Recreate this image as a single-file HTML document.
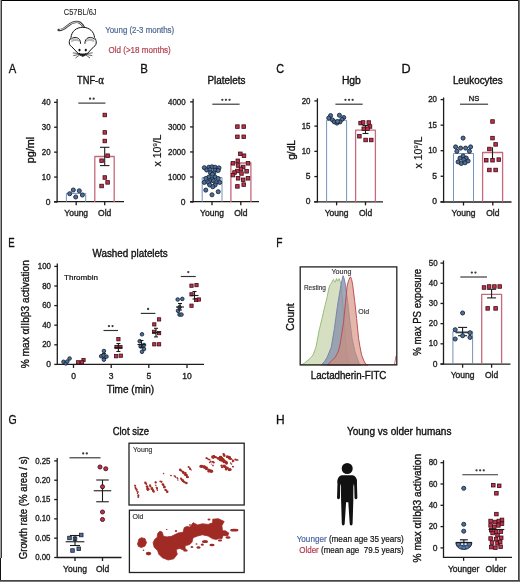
<!DOCTYPE html>
<html><head><meta charset="utf-8"><style>
html,body{margin:0;padding:0;background:#fff;width:520px;height:582px;overflow:hidden}
svg{display:block;font-family:"Liberation Sans", sans-serif;will-change:transform}
</style></head><body>
<svg width="520" height="582" viewBox="0 0 520 582">
<rect x="0.00" y="0.00" width="520.00" height="582.00" fill="#ffffff" />
<line x1="0.00" y1="0.50" x2="520.00" y2="0.50" stroke="#000" stroke-width="1" />
<line x1="0.50" y1="0.00" x2="0.50" y2="558.00" stroke="#a0a0a0" stroke-width="1" />
<line x1="1.50" y1="0.00" x2="1.50" y2="558.00" stroke="#3a3a3a" stroke-width="1" />
<line x1="0.50" y1="558.00" x2="0.50" y2="582.00" stroke="#111" stroke-width="1" />
<line x1="518.50" y1="0.00" x2="518.50" y2="582.00" stroke="#444" stroke-width="1" />
<line x1="519.50" y1="0.00" x2="519.50" y2="582.00" stroke="#777" stroke-width="1" />
<line x1="0.00" y1="580.50" x2="520.00" y2="580.50" stroke="#444" stroke-width="1" />
<line x1="0.00" y1="581.50" x2="520.00" y2="581.50" stroke="#777" stroke-width="1" />
<text x="63.80" y="15.00" font-size="8.6" fill="#2a2a2a" stroke="#2a2a2a" stroke-width="0.12" textLength="32.80" lengthAdjust="spacingAndGlyphs" >C57BL/6J</text>
<text x="105.20" y="32.60" font-size="8.3" fill="#4d6892" stroke="#4d6892" stroke-width="0.2" textLength="69.00" lengthAdjust="spacingAndGlyphs" >Young (2-3 months)</text>
<text x="108.50" y="52.60" font-size="8.3" fill="#b2404f" stroke="#b2404f" stroke-width="0.2" textLength="62.30" lengthAdjust="spacingAndGlyphs" >Old (&gt;18 months)</text>
<g stroke="#111" fill="#fff" stroke-linejoin="round" stroke-linecap="round">
<path d="M58.6 30 C62 30.6 65 28.2 68 25.6 C71.5 22.6 75 21.2 78.5 22.1 C80.6 22.8 82.6 24.6 83.9 27.4" fill="none" stroke="#3a3a3a" stroke-width="2.3"/>
<path d="M60 29.7 C62.5 29.8 65.2 27.8 68 25.5 C71.5 22.7 75 21.5 78.4 22.3 C80.3 22.9 82 24.5 83.3 27" fill="none" stroke="#d4d4d4" stroke-width="1.0"/>
<path d="M82.8 56 C80.6 56 79.2 54.6 77.8 53 L71.6 46.6 C69.6 45.6 69.1 43.5 69.3 41.5 C69.5 39.6 70.4 38.6 71 37.6 C71.4 31.6 76.2 27.3 82.7 27.3 C89.3 27.3 94.1 31.6 94.5 37.6 C95.1 38.6 96 39.6 96.2 41.5 C96.4 43.5 95.9 45.6 93.9 46.6 L87.8 53 C86.4 54.6 85 56 82.8 56 Z" stroke-width="1"/>
<path d="M71.3 40 C73 38 77.5 37.8 79.4 40.3 L79.9 42.2 C77.5 40.6 74 40.8 71.2 42.6 Z" fill="#b8b8b8" stroke="none"/>
<path d="M94.2 40 C92.5 38 88 37.8 86.1 40.3 L85.6 42.2 C88 40.6 91.5 40.8 94.3 42.6 Z" fill="#b8b8b8" stroke="none"/>
<path d="M71 39.2 C72.6 36.9 77.6 36.6 79.6 39.6 C80.4 40.9 80.6 42.1 80.6 43.4" fill="none" stroke-width="0.95"/>
<path d="M94.5 39.2 C92.9 36.9 87.9 36.6 85.9 39.6 C85.1 40.9 84.9 42.1 84.9 43.4" fill="none" stroke-width="0.95"/>
<ellipse cx="79.5" cy="50.1" rx="1.1" ry="1.4" fill="#111" stroke="none"/>
<ellipse cx="85.8" cy="50.1" rx="1.1" ry="1.4" fill="#111" stroke="none"/>
<path d="M79.3 53.6 C80.5 55.8 85 55.8 86.2 53.6 C85 54.3 80.5 54.3 79.3 53.6 Z" fill="#111" stroke-width="1"/>
<path d="M78.8 53.6 L73.2 52.9 M79 54.4 L73.6 55.6 M79.5 55 L75.8 57.8 M86.7 53.6 L92.3 52.9 M86.5 54.4 L91.9 55.6 M86 55 L89.7 57.8" fill="none" stroke="#222" stroke-width="0.7"/>
</g>
<text transform="translate(8.63 72.80) scale(0.878 1)" font-size="12.8" fill="#111" stroke="#111" stroke-width="0.3">A</text>
<text x="77.10" y="83.80" font-size="10" fill="#111" stroke="#111" stroke-width="0.35" textLength="26.70" lengthAdjust="spacingAndGlyphs" >TNF-<tspan font-family="Liberation Serif" font-size="11.5">α</tspan></text>
<line x1="57.10" y1="99.00" x2="57.10" y2="202.40" stroke="#1c1c1c" stroke-width="1.3" />
<line x1="54.10" y1="202.00" x2="57.10" y2="202.00" stroke="#1c1c1c" stroke-width="1.3" />
<text x="50.60" y="204.60" font-size="8.5" fill="#222" stroke="#222" stroke-width="0.35" text-anchor="end" >0</text>
<line x1="54.10" y1="177.07" x2="57.10" y2="177.07" stroke="#1c1c1c" stroke-width="1.3" />
<text x="50.60" y="179.67" font-size="8.5" fill="#222" stroke="#222" stroke-width="0.35" text-anchor="end" textLength="8.80" lengthAdjust="spacingAndGlyphs" >10</text>
<line x1="54.10" y1="152.15" x2="57.10" y2="152.15" stroke="#1c1c1c" stroke-width="1.3" />
<text x="50.60" y="154.75" font-size="8.5" fill="#222" stroke="#222" stroke-width="0.35" text-anchor="end" textLength="8.80" lengthAdjust="spacingAndGlyphs" >20</text>
<line x1="54.10" y1="127.22" x2="57.10" y2="127.22" stroke="#1c1c1c" stroke-width="1.3" />
<text x="50.60" y="129.82" font-size="8.5" fill="#222" stroke="#222" stroke-width="0.35" text-anchor="end" textLength="8.80" lengthAdjust="spacingAndGlyphs" >30</text>
<line x1="54.10" y1="102.30" x2="57.10" y2="102.30" stroke="#1c1c1c" stroke-width="1.3" />
<text x="50.60" y="104.90" font-size="8.5" fill="#222" stroke="#222" stroke-width="0.35" text-anchor="end" textLength="8.80" lengthAdjust="spacingAndGlyphs" >40</text>
<line x1="54.00" y1="201.70" x2="124.00" y2="201.70" stroke="#1c1c1c" stroke-width="1.3" />
<line x1="76.20" y1="201.70" x2="76.20" y2="205.20" stroke="#1c1c1c" stroke-width="1.3" />
<text x="76.20" y="216.20" font-size="8.5" fill="#222" stroke="#222" stroke-width="0.35" text-anchor="middle" >Young</text>
<line x1="104.70" y1="201.70" x2="104.70" y2="205.20" stroke="#1c1c1c" stroke-width="1.3" />
<text x="104.70" y="216.20" font-size="8.5" fill="#222" stroke="#222" stroke-width="0.35" text-anchor="middle" >Old</text>
<text x="34.10" y="150.10" font-size="10.6" fill="#111" stroke="#111" stroke-width="0.35" text-anchor="middle" textLength="26.40" lengthAdjust="spacingAndGlyphs" transform="rotate(-90 34.10 150.10)" >pg/ml</text>
<path d="M66.40 202.00 L66.40 193.40 L85.70 193.40 L85.70 202.00" fill="none" stroke="#6f8db5" stroke-width="0.95" stroke-linejoin="round"/>
<path d="M94.80 202.00 L94.80 156.50 L114.20 156.50 L114.20 202.00" fill="none" stroke="#c56a7c" stroke-width="1.3" stroke-linejoin="round"/>
<line x1="104.70" y1="147.30" x2="104.70" y2="165.60" stroke="#1c1c1c" stroke-width="1.1" />
<line x1="100.00" y1="147.30" x2="109.40" y2="147.30" stroke="#1c1c1c" stroke-width="1.1" />
<line x1="100.00" y1="165.60" x2="109.40" y2="165.60" stroke="#1c1c1c" stroke-width="1.1" />
<line x1="78.30" y1="103.10" x2="105.40" y2="103.10" stroke="#333" stroke-width="1.15" />
<circle cx="90.05" cy="98.70" r="1.15" fill="#3a3a3a"/>
<circle cx="93.65" cy="98.70" r="1.15" fill="#3a3a3a"/>
<circle cx="73.30" cy="190.00" r="2.05" fill="#4a6f9f" stroke="#18212e" stroke-width="0.85"/>
<circle cx="79.30" cy="190.80" r="2.05" fill="#4a6f9f" stroke="#18212e" stroke-width="0.85"/>
<circle cx="69.70" cy="193.70" r="2.05" fill="#4a6f9f" stroke="#18212e" stroke-width="0.85"/>
<circle cx="82.40" cy="195.00" r="2.05" fill="#4a6f9f" stroke="#18212e" stroke-width="0.85"/>
<circle cx="75.70" cy="197.00" r="2.05" fill="#4a6f9f" stroke="#18212e" stroke-width="0.85"/>
<rect x="103.02" y="113.22" width="3.55" height="3.55" fill="#c2304a" stroke="#3a0d16" stroke-width="0.8"/>
<rect x="103.02" y="130.62" width="3.55" height="3.55" fill="#c2304a" stroke="#3a0d16" stroke-width="0.8"/>
<rect x="103.02" y="139.22" width="3.55" height="3.55" fill="#c2304a" stroke="#3a0d16" stroke-width="0.8"/>
<rect x="105.82" y="153.92" width="3.55" height="3.55" fill="#c2304a" stroke="#3a0d16" stroke-width="0.8"/>
<rect x="99.82" y="158.92" width="3.55" height="3.55" fill="#c2304a" stroke="#3a0d16" stroke-width="0.8"/>
<rect x="103.02" y="175.72" width="3.55" height="3.55" fill="#c2304a" stroke="#3a0d16" stroke-width="0.8"/>
<rect x="105.82" y="180.62" width="3.55" height="3.55" fill="#c2304a" stroke="#3a0d16" stroke-width="0.8"/>
<rect x="99.82" y="184.22" width="3.55" height="3.55" fill="#c2304a" stroke="#3a0d16" stroke-width="0.8"/>
<text transform="translate(140.26 72.80) scale(0.895 1)" font-size="12.8" fill="#111" stroke="#111" stroke-width="0.3">B</text>
<text x="207.50" y="84.00" font-size="10" fill="#111" stroke="#111" stroke-width="0.35" textLength="38.00" lengthAdjust="spacingAndGlyphs" >Platelets</text>
<line x1="193.10" y1="98.80" x2="193.10" y2="202.40" stroke="#1c1c1c" stroke-width="1.3" />
<line x1="190.10" y1="202.00" x2="193.10" y2="202.00" stroke="#1c1c1c" stroke-width="1.3" />
<text x="185.60" y="204.60" font-size="8.5" fill="#222" stroke="#222" stroke-width="0.35" text-anchor="end" >0</text>
<line x1="190.10" y1="176.97" x2="193.10" y2="176.97" stroke="#1c1c1c" stroke-width="1.3" />
<text x="185.60" y="179.57" font-size="8.5" fill="#222" stroke="#222" stroke-width="0.35" text-anchor="end" textLength="17.60" lengthAdjust="spacingAndGlyphs" >1000</text>
<line x1="190.10" y1="151.95" x2="193.10" y2="151.95" stroke="#1c1c1c" stroke-width="1.3" />
<text x="185.60" y="154.55" font-size="8.5" fill="#222" stroke="#222" stroke-width="0.35" text-anchor="end" textLength="17.60" lengthAdjust="spacingAndGlyphs" >2000</text>
<line x1="190.10" y1="126.92" x2="193.10" y2="126.92" stroke="#1c1c1c" stroke-width="1.3" />
<text x="185.60" y="129.53" font-size="8.5" fill="#222" stroke="#222" stroke-width="0.35" text-anchor="end" textLength="17.60" lengthAdjust="spacingAndGlyphs" >3000</text>
<line x1="190.10" y1="101.90" x2="193.10" y2="101.90" stroke="#1c1c1c" stroke-width="1.3" />
<text x="185.60" y="104.50" font-size="8.5" fill="#222" stroke="#222" stroke-width="0.35" text-anchor="end" textLength="17.60" lengthAdjust="spacingAndGlyphs" >4000</text>
<line x1="190.00" y1="201.70" x2="259.00" y2="201.70" stroke="#1c1c1c" stroke-width="1.3" />
<line x1="212.00" y1="201.70" x2="212.00" y2="205.20" stroke="#1c1c1c" stroke-width="1.3" />
<text x="212.00" y="216.20" font-size="8.5" fill="#222" stroke="#222" stroke-width="0.35" text-anchor="middle" >Young</text>
<line x1="240.80" y1="201.70" x2="240.80" y2="205.20" stroke="#1c1c1c" stroke-width="1.3" />
<text x="240.80" y="216.20" font-size="8.5" fill="#222" stroke="#222" stroke-width="0.35" text-anchor="middle" >Old</text>
<text x="161" y="150.5" font-size="10.6" fill="#111" stroke="#111" stroke-width="0.15" text-anchor="middle" transform="rotate(-90 161 150.5)">x 10<tspan font-size="6" dy="-4">9</tspan><tspan dy="4">/L</tspan></text>
<path d="M202.20 202.00 L202.20 177.60 L222.00 177.60 L222.00 202.00" fill="none" stroke="#6f8db5" stroke-width="0.95" stroke-linejoin="round"/>
<path d="M230.90 202.00 L230.90 163.00 L250.90 163.00 L250.90 202.00" fill="none" stroke="#c56a7c" stroke-width="1.3" stroke-linejoin="round"/>
<line x1="212.30" y1="104.20" x2="239.60" y2="104.20" stroke="#333" stroke-width="1.15" />
<circle cx="222.35" cy="99.80" r="1.15" fill="#3a3a3a"/>
<circle cx="225.95" cy="99.80" r="1.15" fill="#3a3a3a"/>
<circle cx="229.55" cy="99.80" r="1.15" fill="#3a3a3a"/>
<circle cx="204.30" cy="167.70" r="2.05" fill="#4a6f9f" stroke="#18212e" stroke-width="0.85"/>
<circle cx="208.90" cy="167.20" r="2.05" fill="#4a6f9f" stroke="#18212e" stroke-width="0.85"/>
<circle cx="212.00" cy="166.80" r="2.05" fill="#4a6f9f" stroke="#18212e" stroke-width="0.85"/>
<circle cx="215.10" cy="167.20" r="2.05" fill="#4a6f9f" stroke="#18212e" stroke-width="0.85"/>
<circle cx="219.00" cy="167.90" r="2.05" fill="#4a6f9f" stroke="#18212e" stroke-width="0.85"/>
<circle cx="206.60" cy="170.00" r="2.05" fill="#4a6f9f" stroke="#18212e" stroke-width="0.85"/>
<circle cx="210.00" cy="169.80" r="2.05" fill="#4a6f9f" stroke="#18212e" stroke-width="0.85"/>
<circle cx="215.10" cy="170.20" r="2.05" fill="#4a6f9f" stroke="#18212e" stroke-width="0.85"/>
<circle cx="218.20" cy="170.50" r="2.05" fill="#4a6f9f" stroke="#18212e" stroke-width="0.85"/>
<circle cx="210.50" cy="172.70" r="2.05" fill="#4a6f9f" stroke="#18212e" stroke-width="0.85"/>
<circle cx="213.90" cy="172.90" r="2.05" fill="#4a6f9f" stroke="#18212e" stroke-width="0.85"/>
<circle cx="212.40" cy="174.20" r="2.05" fill="#4a6f9f" stroke="#18212e" stroke-width="0.85"/>
<circle cx="208.90" cy="177.00" r="2.05" fill="#4a6f9f" stroke="#18212e" stroke-width="0.85"/>
<circle cx="215.10" cy="177.00" r="2.05" fill="#4a6f9f" stroke="#18212e" stroke-width="0.85"/>
<circle cx="205.80" cy="178.50" r="2.05" fill="#4a6f9f" stroke="#18212e" stroke-width="0.85"/>
<circle cx="218.20" cy="178.50" r="2.05" fill="#4a6f9f" stroke="#18212e" stroke-width="0.85"/>
<circle cx="212.00" cy="179.00" r="2.05" fill="#4a6f9f" stroke="#18212e" stroke-width="0.85"/>
<circle cx="210.00" cy="180.80" r="2.05" fill="#4a6f9f" stroke="#18212e" stroke-width="0.85"/>
<circle cx="213.50" cy="180.80" r="2.05" fill="#4a6f9f" stroke="#18212e" stroke-width="0.85"/>
<circle cx="204.30" cy="182.40" r="2.05" fill="#4a6f9f" stroke="#18212e" stroke-width="0.85"/>
<circle cx="219.70" cy="182.40" r="2.05" fill="#4a6f9f" stroke="#18212e" stroke-width="0.85"/>
<circle cx="208.50" cy="182.60" r="2.05" fill="#4a6f9f" stroke="#18212e" stroke-width="0.85"/>
<circle cx="215.90" cy="182.60" r="2.05" fill="#4a6f9f" stroke="#18212e" stroke-width="0.85"/>
<circle cx="209.70" cy="185.00" r="2.05" fill="#4a6f9f" stroke="#18212e" stroke-width="0.85"/>
<circle cx="215.10" cy="185.00" r="2.05" fill="#4a6f9f" stroke="#18212e" stroke-width="0.85"/>
<circle cx="212.80" cy="186.70" r="2.05" fill="#4a6f9f" stroke="#18212e" stroke-width="0.85"/>
<circle cx="205.80" cy="190.10" r="2.05" fill="#4a6f9f" stroke="#18212e" stroke-width="0.85"/>
<circle cx="218.20" cy="191.70" r="2.05" fill="#4a6f9f" stroke="#18212e" stroke-width="0.85"/>
<circle cx="212.00" cy="194.80" r="2.05" fill="#4a6f9f" stroke="#18212e" stroke-width="0.85"/>
<rect x="235.62" y="124.82" width="3.55" height="3.55" fill="#c2304a" stroke="#3a0d16" stroke-width="0.8"/>
<rect x="241.92" y="124.82" width="3.55" height="3.55" fill="#c2304a" stroke="#3a0d16" stroke-width="0.8"/>
<rect x="235.62" y="135.03" width="3.55" height="3.55" fill="#c2304a" stroke="#3a0d16" stroke-width="0.8"/>
<rect x="241.92" y="135.03" width="3.55" height="3.55" fill="#c2304a" stroke="#3a0d16" stroke-width="0.8"/>
<rect x="238.53" y="152.03" width="3.55" height="3.55" fill="#c2304a" stroke="#3a0d16" stroke-width="0.8"/>
<rect x="242.22" y="153.92" width="3.55" height="3.55" fill="#c2304a" stroke="#3a0d16" stroke-width="0.8"/>
<rect x="236.03" y="159.03" width="3.55" height="3.55" fill="#c2304a" stroke="#3a0d16" stroke-width="0.8"/>
<rect x="231.22" y="161.53" width="3.55" height="3.55" fill="#c2304a" stroke="#3a0d16" stroke-width="0.8"/>
<rect x="246.22" y="161.53" width="3.55" height="3.55" fill="#c2304a" stroke="#3a0d16" stroke-width="0.8"/>
<rect x="236.32" y="163.72" width="3.55" height="3.55" fill="#c2304a" stroke="#3a0d16" stroke-width="0.8"/>
<rect x="241.42" y="165.22" width="3.55" height="3.55" fill="#c2304a" stroke="#3a0d16" stroke-width="0.8"/>
<rect x="239.22" y="167.12" width="3.55" height="3.55" fill="#c2304a" stroke="#3a0d16" stroke-width="0.8"/>
<rect x="235.62" y="169.22" width="3.55" height="3.55" fill="#c2304a" stroke="#3a0d16" stroke-width="0.8"/>
<rect x="244.82" y="169.53" width="3.55" height="3.55" fill="#c2304a" stroke="#3a0d16" stroke-width="0.8"/>
<rect x="232.72" y="170.72" width="3.55" height="3.55" fill="#c2304a" stroke="#3a0d16" stroke-width="0.8"/>
<rect x="239.72" y="171.72" width="3.55" height="3.55" fill="#c2304a" stroke="#3a0d16" stroke-width="0.8"/>
<rect x="231.22" y="173.32" width="3.55" height="3.55" fill="#c2304a" stroke="#3a0d16" stroke-width="0.8"/>
<rect x="236.32" y="176.53" width="3.55" height="3.55" fill="#c2304a" stroke="#3a0d16" stroke-width="0.8"/>
<rect x="246.22" y="176.53" width="3.55" height="3.55" fill="#c2304a" stroke="#3a0d16" stroke-width="0.8"/>
<rect x="241.42" y="178.03" width="3.55" height="3.55" fill="#c2304a" stroke="#3a0d16" stroke-width="0.8"/>
<rect x="235.62" y="184.62" width="3.55" height="3.55" fill="#c2304a" stroke="#3a0d16" stroke-width="0.8"/>
<rect x="241.92" y="182.82" width="3.55" height="3.55" fill="#c2304a" stroke="#3a0d16" stroke-width="0.8"/>
<text transform="translate(276.35 72.90) scale(0.851 1)" font-size="12.8" fill="#111" stroke="#111" stroke-width="0.3">C</text>
<text x="341.90" y="84.00" font-size="10" fill="#111" stroke="#111" stroke-width="0.35" textLength="19.00" lengthAdjust="spacingAndGlyphs" >Hgb</text>
<line x1="317.40" y1="98.30" x2="317.40" y2="202.40" stroke="#1c1c1c" stroke-width="1.3" />
<line x1="314.40" y1="201.80" x2="317.40" y2="201.80" stroke="#1c1c1c" stroke-width="1.3" />
<text x="310.50" y="204.40" font-size="8.5" fill="#222" stroke="#222" stroke-width="0.35" text-anchor="end" >0</text>
<line x1="314.40" y1="176.58" x2="317.40" y2="176.58" stroke="#1c1c1c" stroke-width="1.3" />
<text x="310.50" y="179.18" font-size="8.5" fill="#222" stroke="#222" stroke-width="0.35" text-anchor="end" >5</text>
<line x1="314.40" y1="151.35" x2="317.40" y2="151.35" stroke="#1c1c1c" stroke-width="1.3" />
<text x="310.50" y="153.95" font-size="8.5" fill="#222" stroke="#222" stroke-width="0.35" text-anchor="end" textLength="8.80" lengthAdjust="spacingAndGlyphs" >10</text>
<line x1="314.40" y1="126.13" x2="317.40" y2="126.13" stroke="#1c1c1c" stroke-width="1.3" />
<text x="310.50" y="128.73" font-size="8.5" fill="#222" stroke="#222" stroke-width="0.35" text-anchor="end" textLength="8.80" lengthAdjust="spacingAndGlyphs" >15</text>
<line x1="314.40" y1="100.90" x2="317.40" y2="100.90" stroke="#1c1c1c" stroke-width="1.3" />
<text x="310.50" y="103.50" font-size="8.5" fill="#222" stroke="#222" stroke-width="0.35" text-anchor="end" textLength="8.80" lengthAdjust="spacingAndGlyphs" >20</text>
<line x1="314.00" y1="201.80" x2="383.00" y2="201.80" stroke="#1c1c1c" stroke-width="1.3" />
<line x1="336.60" y1="201.80" x2="336.60" y2="205.30" stroke="#1c1c1c" stroke-width="1.3" />
<text x="336.60" y="216.20" font-size="8.5" fill="#222" stroke="#222" stroke-width="0.35" text-anchor="middle" >Young</text>
<line x1="365.50" y1="201.80" x2="365.50" y2="205.30" stroke="#1c1c1c" stroke-width="1.3" />
<text x="365.50" y="216.20" font-size="8.5" fill="#222" stroke="#222" stroke-width="0.35" text-anchor="middle" >Old</text>
<text x="294.60" y="149.90" font-size="10.6" fill="#111" stroke="#111" stroke-width="0.35" text-anchor="middle" textLength="19.80" lengthAdjust="spacingAndGlyphs" transform="rotate(-90 294.60 149.90)" >g/dL</text>
<path d="M326.60 201.80 L326.60 120.30 L346.60 120.30 L346.60 201.80" fill="none" stroke="#6f8db5" stroke-width="0.95" stroke-linejoin="round"/>
<path d="M355.60 201.80 L355.60 130.20 L375.40 130.20 L375.40 201.80" fill="none" stroke="#c56a7c" stroke-width="1.3" stroke-linejoin="round"/>
<line x1="335.40" y1="104.20" x2="362.70" y2="104.20" stroke="#333" stroke-width="1.15" />
<circle cx="345.45" cy="99.80" r="1.15" fill="#3a3a3a"/>
<circle cx="349.05" cy="99.80" r="1.15" fill="#3a3a3a"/>
<circle cx="352.65" cy="99.80" r="1.15" fill="#3a3a3a"/>
<line x1="365.50" y1="125.50" x2="365.50" y2="133.50" stroke="#1c1c1c" stroke-width="1.1" />
<line x1="362.50" y1="125.50" x2="368.50" y2="125.50" stroke="#1c1c1c" stroke-width="1.1" />
<line x1="362.50" y1="133.50" x2="368.50" y2="133.50" stroke="#1c1c1c" stroke-width="1.1" />
<circle cx="330.60" cy="115.60" r="2.05" fill="#4a6f9f" stroke="#18212e" stroke-width="0.85"/>
<circle cx="339.40" cy="115.25" r="2.05" fill="#4a6f9f" stroke="#18212e" stroke-width="0.85"/>
<circle cx="328.75" cy="118.10" r="2.05" fill="#4a6f9f" stroke="#18212e" stroke-width="0.85"/>
<circle cx="343.75" cy="117.50" r="2.05" fill="#4a6f9f" stroke="#18212e" stroke-width="0.85"/>
<circle cx="332.50" cy="120.00" r="2.05" fill="#4a6f9f" stroke="#18212e" stroke-width="0.85"/>
<circle cx="341.90" cy="119.40" r="2.05" fill="#4a6f9f" stroke="#18212e" stroke-width="0.85"/>
<circle cx="334.40" cy="121.90" r="2.05" fill="#4a6f9f" stroke="#18212e" stroke-width="0.85"/>
<circle cx="340.00" cy="121.90" r="2.05" fill="#4a6f9f" stroke="#18212e" stroke-width="0.85"/>
<circle cx="336.90" cy="123.10" r="2.05" fill="#4a6f9f" stroke="#18212e" stroke-width="0.85"/>
<circle cx="337.50" cy="121.50" r="2.05" fill="#4a6f9f" stroke="#18212e" stroke-width="0.85"/>
<rect x="358.83" y="121.32" width="3.55" height="3.55" fill="#c2304a" stroke="#3a0d16" stroke-width="0.8"/>
<rect x="361.33" y="120.72" width="3.55" height="3.55" fill="#c2304a" stroke="#3a0d16" stroke-width="0.8"/>
<rect x="366.98" y="120.72" width="3.55" height="3.55" fill="#c2304a" stroke="#3a0d16" stroke-width="0.8"/>
<rect x="368.23" y="124.72" width="3.55" height="3.55" fill="#c2304a" stroke="#3a0d16" stroke-width="0.8"/>
<rect x="361.98" y="126.97" width="3.55" height="3.55" fill="#c2304a" stroke="#3a0d16" stroke-width="0.8"/>
<rect x="365.73" y="126.97" width="3.55" height="3.55" fill="#c2304a" stroke="#3a0d16" stroke-width="0.8"/>
<rect x="357.62" y="134.47" width="3.55" height="3.55" fill="#c2304a" stroke="#3a0d16" stroke-width="0.8"/>
<rect x="363.83" y="138.22" width="3.55" height="3.55" fill="#c2304a" stroke="#3a0d16" stroke-width="0.8"/>
<rect x="369.48" y="138.22" width="3.55" height="3.55" fill="#c2304a" stroke="#3a0d16" stroke-width="0.8"/>
<text transform="translate(401.46 72.80) scale(0.989 1)" font-size="12.8" fill="#111" stroke="#111" stroke-width="0.3">D</text>
<text x="452.90" y="84.00" font-size="10" fill="#111" stroke="#111" stroke-width="0.35" textLength="49.70" lengthAdjust="spacingAndGlyphs" >Leukocytes</text>
<line x1="443.60" y1="97.50" x2="443.60" y2="202.50" stroke="#1c1c1c" stroke-width="1.3" />
<line x1="440.60" y1="201.80" x2="443.60" y2="201.80" stroke="#1c1c1c" stroke-width="1.3" />
<text x="437.00" y="204.40" font-size="8.5" fill="#222" stroke="#222" stroke-width="0.35" text-anchor="end" >0</text>
<line x1="440.60" y1="176.25" x2="443.60" y2="176.25" stroke="#1c1c1c" stroke-width="1.3" />
<text x="437.00" y="178.85" font-size="8.5" fill="#222" stroke="#222" stroke-width="0.35" text-anchor="end" >5</text>
<line x1="440.60" y1="150.70" x2="443.60" y2="150.70" stroke="#1c1c1c" stroke-width="1.3" />
<text x="437.00" y="153.30" font-size="8.5" fill="#222" stroke="#222" stroke-width="0.35" text-anchor="end" textLength="8.80" lengthAdjust="spacingAndGlyphs" >10</text>
<line x1="440.60" y1="125.15" x2="443.60" y2="125.15" stroke="#1c1c1c" stroke-width="1.3" />
<text x="437.00" y="127.75" font-size="8.5" fill="#222" stroke="#222" stroke-width="0.35" text-anchor="end" textLength="8.80" lengthAdjust="spacingAndGlyphs" >15</text>
<line x1="440.60" y1="99.60" x2="443.60" y2="99.60" stroke="#1c1c1c" stroke-width="1.3" />
<text x="437.00" y="102.20" font-size="8.5" fill="#222" stroke="#222" stroke-width="0.35" text-anchor="end" textLength="8.80" lengthAdjust="spacingAndGlyphs" >20</text>
<line x1="440.50" y1="202.00" x2="511.50" y2="202.00" stroke="#1c1c1c" stroke-width="1.3" />
<line x1="463.50" y1="202.00" x2="463.50" y2="205.50" stroke="#1c1c1c" stroke-width="1.3" />
<text x="463.50" y="216.20" font-size="8.5" fill="#222" stroke="#222" stroke-width="0.35" text-anchor="middle" >Young</text>
<line x1="492.80" y1="202.00" x2="492.80" y2="205.50" stroke="#1c1c1c" stroke-width="1.3" />
<text x="492.80" y="216.20" font-size="8.5" fill="#222" stroke="#222" stroke-width="0.35" text-anchor="middle" >Old</text>
<text x="422" y="152.5" font-size="10.6" fill="#111" stroke="#111" stroke-width="0.15" text-anchor="middle" transform="rotate(-90 422 152.5)">x 10<tspan font-size="6" dy="-4">9</tspan><tspan dy="4">/L</tspan></text>
<path d="M453.50 201.80 L453.50 153.50 L473.50 153.50 L473.50 201.80" fill="none" stroke="#6f8db5" stroke-width="0.95" stroke-linejoin="round"/>
<path d="M482.60 201.80 L482.60 152.50 L502.60 152.50 L502.60 201.80" fill="none" stroke="#c56a7c" stroke-width="1.3" stroke-linejoin="round"/>
<line x1="460.00" y1="104.20" x2="488.10" y2="104.20" stroke="#333" stroke-width="1.15" />
<text x="474.05" y="100.60" font-size="7.6" fill="#222" stroke="#222" stroke-width="0.35" text-anchor="middle" >NS</text>
<line x1="492.50" y1="147.30" x2="492.50" y2="161.90" stroke="#1c1c1c" stroke-width="1.1" />
<circle cx="463.10" cy="138.10" r="2.05" fill="#4a6f9f" stroke="#18212e" stroke-width="0.85"/>
<circle cx="455.60" cy="146.90" r="2.05" fill="#4a6f9f" stroke="#18212e" stroke-width="0.85"/>
<circle cx="460.60" cy="148.10" r="2.05" fill="#4a6f9f" stroke="#18212e" stroke-width="0.85"/>
<circle cx="465.60" cy="148.10" r="2.05" fill="#4a6f9f" stroke="#18212e" stroke-width="0.85"/>
<circle cx="470.60" cy="146.90" r="2.05" fill="#4a6f9f" stroke="#18212e" stroke-width="0.85"/>
<circle cx="456.90" cy="151.25" r="2.05" fill="#4a6f9f" stroke="#18212e" stroke-width="0.85"/>
<circle cx="469.40" cy="151.25" r="2.05" fill="#4a6f9f" stroke="#18212e" stroke-width="0.85"/>
<circle cx="463.10" cy="156.00" r="2.05" fill="#4a6f9f" stroke="#18212e" stroke-width="0.85"/>
<circle cx="460.00" cy="158.10" r="2.05" fill="#4a6f9f" stroke="#18212e" stroke-width="0.85"/>
<circle cx="466.25" cy="158.10" r="2.05" fill="#4a6f9f" stroke="#18212e" stroke-width="0.85"/>
<circle cx="463.75" cy="159.75" r="2.05" fill="#4a6f9f" stroke="#18212e" stroke-width="0.85"/>
<circle cx="458.10" cy="161.90" r="2.05" fill="#4a6f9f" stroke="#18212e" stroke-width="0.85"/>
<circle cx="461.25" cy="163.50" r="2.05" fill="#4a6f9f" stroke="#18212e" stroke-width="0.85"/>
<circle cx="465.00" cy="162.75" r="2.05" fill="#4a6f9f" stroke="#18212e" stroke-width="0.85"/>
<circle cx="468.10" cy="161.00" r="2.05" fill="#4a6f9f" stroke="#18212e" stroke-width="0.85"/>
<rect x="490.73" y="119.72" width="3.55" height="3.55" fill="#c2304a" stroke="#3a0d16" stroke-width="0.8"/>
<rect x="490.73" y="136.32" width="3.55" height="3.55" fill="#c2304a" stroke="#3a0d16" stroke-width="0.8"/>
<rect x="493.83" y="142.62" width="3.55" height="3.55" fill="#c2304a" stroke="#3a0d16" stroke-width="0.8"/>
<rect x="487.62" y="147.22" width="3.55" height="3.55" fill="#c2304a" stroke="#3a0d16" stroke-width="0.8"/>
<rect x="484.48" y="158.47" width="3.55" height="3.55" fill="#c2304a" stroke="#3a0d16" stroke-width="0.8"/>
<rect x="490.73" y="158.47" width="3.55" height="3.55" fill="#c2304a" stroke="#3a0d16" stroke-width="0.8"/>
<rect x="496.98" y="157.82" width="3.55" height="3.55" fill="#c2304a" stroke="#3a0d16" stroke-width="0.8"/>
<rect x="487.62" y="168.22" width="3.55" height="3.55" fill="#c2304a" stroke="#3a0d16" stroke-width="0.8"/>
<rect x="493.83" y="168.22" width="3.55" height="3.55" fill="#c2304a" stroke="#3a0d16" stroke-width="0.8"/>
<text transform="translate(8.21 246.60) scale(0.750 1)" font-size="12.8" fill="#111" stroke="#111" stroke-width="0.3">E</text>
<text x="92.50" y="257.00" font-size="10" fill="#111" stroke="#111" stroke-width="0.35" textLength="75.20" lengthAdjust="spacingAndGlyphs" >Washed platelets</text>
<line x1="57.30" y1="263.50" x2="57.30" y2="365.00" stroke="#1c1c1c" stroke-width="1.3" />
<line x1="54.30" y1="364.40" x2="57.30" y2="364.40" stroke="#1c1c1c" stroke-width="1.3" />
<text x="51.00" y="367.00" font-size="8.5" fill="#222" stroke="#222" stroke-width="0.35" text-anchor="end" >0</text>
<line x1="54.30" y1="344.80" x2="57.30" y2="344.80" stroke="#1c1c1c" stroke-width="1.3" />
<text x="51.00" y="347.40" font-size="8.5" fill="#222" stroke="#222" stroke-width="0.35" text-anchor="end" textLength="8.80" lengthAdjust="spacingAndGlyphs" >20</text>
<line x1="54.30" y1="325.20" x2="57.30" y2="325.20" stroke="#1c1c1c" stroke-width="1.3" />
<text x="51.00" y="327.80" font-size="8.5" fill="#222" stroke="#222" stroke-width="0.35" text-anchor="end" textLength="8.80" lengthAdjust="spacingAndGlyphs" >40</text>
<line x1="54.30" y1="305.60" x2="57.30" y2="305.60" stroke="#1c1c1c" stroke-width="1.3" />
<text x="51.00" y="308.20" font-size="8.5" fill="#222" stroke="#222" stroke-width="0.35" text-anchor="end" textLength="8.80" lengthAdjust="spacingAndGlyphs" >60</text>
<line x1="54.30" y1="286.00" x2="57.30" y2="286.00" stroke="#1c1c1c" stroke-width="1.3" />
<text x="51.00" y="288.60" font-size="8.5" fill="#222" stroke="#222" stroke-width="0.35" text-anchor="end" textLength="8.80" lengthAdjust="spacingAndGlyphs" >80</text>
<line x1="54.30" y1="266.40" x2="57.30" y2="266.40" stroke="#1c1c1c" stroke-width="1.3" />
<text x="51.00" y="269.00" font-size="8.5" fill="#222" stroke="#222" stroke-width="0.35" text-anchor="end" textLength="13.20" lengthAdjust="spacingAndGlyphs" >100</text>
<line x1="57.00" y1="364.40" x2="204.00" y2="364.40" stroke="#1c1c1c" stroke-width="1.3" />
<line x1="73.50" y1="364.40" x2="73.50" y2="367.90" stroke="#1c1c1c" stroke-width="1.3" />
<text x="73.50" y="378.50" font-size="8.5" fill="#222" stroke="#222" stroke-width="0.35" text-anchor="middle" >0</text>
<line x1="111.20" y1="364.40" x2="111.20" y2="367.90" stroke="#1c1c1c" stroke-width="1.3" />
<text x="111.20" y="378.50" font-size="8.5" fill="#222" stroke="#222" stroke-width="0.35" text-anchor="middle" >3</text>
<line x1="148.80" y1="364.40" x2="148.80" y2="367.90" stroke="#1c1c1c" stroke-width="1.3" />
<text x="148.80" y="378.50" font-size="8.5" fill="#222" stroke="#222" stroke-width="0.35" text-anchor="middle" >5</text>
<line x1="187.00" y1="364.40" x2="187.00" y2="367.90" stroke="#1c1c1c" stroke-width="1.3" />
<text x="187.00" y="378.50" font-size="8.5" fill="#222" stroke="#222" stroke-width="0.35" text-anchor="middle" >10</text>
<text x="130.40" y="392.80" font-size="10.4" fill="#111" stroke="#111" stroke-width="0.35" text-anchor="middle" textLength="47.50" lengthAdjust="spacingAndGlyphs" >Time (min)</text>
<text x="64.00" y="280.00" font-size="7.6" fill="#111" stroke="#111" stroke-width="0.22" textLength="34.00" lengthAdjust="spacingAndGlyphs" >Thrombin</text>
<text x="29.20" y="314.20" font-size="10.6" fill="#111" stroke="#111" stroke-width="0.35" text-anchor="middle" textLength="108.00" lengthAdjust="spacingAndGlyphs" transform="rotate(-90 29.20 314.20)" >% max <tspan font-family="Liberation Serif" font-size="12">α</tspan>IIbβ3 activation</text>
<line x1="103.50" y1="330.50" x2="118.00" y2="330.50" stroke="#333" stroke-width="1.15" />
<circle cx="108.95" cy="326.10" r="1.15" fill="#3a3a3a"/>
<circle cx="112.55" cy="326.10" r="1.15" fill="#3a3a3a"/>
<line x1="140.80" y1="313.40" x2="155.40" y2="313.40" stroke="#333" stroke-width="1.15" />
<circle cx="148.10" cy="309.00" r="1.15" fill="#3a3a3a"/>
<line x1="180.80" y1="276.50" x2="195.80" y2="276.50" stroke="#333" stroke-width="1.15" />
<circle cx="188.30" cy="272.10" r="1.15" fill="#3a3a3a"/>
<circle cx="63.50" cy="361.80" r="1.8" fill="#4a6f9f" stroke="#18212e" stroke-width="0.85"/>
<circle cx="65.80" cy="363.40" r="1.8" fill="#4a6f9f" stroke="#18212e" stroke-width="0.85"/>
<circle cx="69.60" cy="358.50" r="1.8" fill="#4a6f9f" stroke="#18212e" stroke-width="0.85"/>
<circle cx="67.30" cy="361.50" r="1.8" fill="#4a6f9f" stroke="#18212e" stroke-width="0.85"/>
<rect x="76.47" y="360.68" width="3.25" height="3.25" fill="#c2304a" stroke="#3a0d16" stroke-width="0.8"/>
<rect x="81.88" y="358.38" width="3.25" height="3.25" fill="#c2304a" stroke="#3a0d16" stroke-width="0.8"/>
<rect x="80.38" y="360.68" width="3.25" height="3.25" fill="#c2304a" stroke="#3a0d16" stroke-width="0.8"/>
<line x1="103.90" y1="353.50" x2="103.90" y2="358.50" stroke="#1c1c1c" stroke-width="1.1" />
<line x1="101.90" y1="353.50" x2="105.90" y2="353.50" stroke="#1c1c1c" stroke-width="1.1" />
<line x1="101.90" y1="358.50" x2="105.90" y2="358.50" stroke="#1c1c1c" stroke-width="1.1" />
<line x1="99.90" y1="356.00" x2="107.90" y2="356.00" stroke="#1c1c1c" stroke-width="1.1" />
<circle cx="103.90" cy="351.00" r="1.8" fill="#4a6f9f" stroke="#18212e" stroke-width="0.85"/>
<circle cx="101.20" cy="356.20" r="1.8" fill="#4a6f9f" stroke="#18212e" stroke-width="0.85"/>
<circle cx="106.50" cy="356.60" r="1.8" fill="#4a6f9f" stroke="#18212e" stroke-width="0.85"/>
<circle cx="103.90" cy="359.70" r="1.8" fill="#4a6f9f" stroke="#18212e" stroke-width="0.85"/>
<circle cx="103.50" cy="355.40" r="1.8" fill="#4a6f9f" stroke="#18212e" stroke-width="0.85"/>
<rect x="116.78" y="337.57" width="3.25" height="3.25" fill="#c2304a" stroke="#3a0d16" stroke-width="0.8"/>
<rect x="114.88" y="345.38" width="3.25" height="3.25" fill="#c2304a" stroke="#3a0d16" stroke-width="0.8"/>
<rect x="118.78" y="345.38" width="3.25" height="3.25" fill="#c2304a" stroke="#3a0d16" stroke-width="0.8"/>
<rect x="114.58" y="354.57" width="3.25" height="3.25" fill="#c2304a" stroke="#3a0d16" stroke-width="0.8"/>
<rect x="119.17" y="354.07" width="3.25" height="3.25" fill="#c2304a" stroke="#3a0d16" stroke-width="0.8"/>
<line x1="118.40" y1="343.50" x2="118.40" y2="351.50" stroke="#1c1c1c" stroke-width="1.1" />
<line x1="116.40" y1="343.50" x2="120.40" y2="343.50" stroke="#1c1c1c" stroke-width="1.1" />
<line x1="116.40" y1="351.50" x2="120.40" y2="351.50" stroke="#1c1c1c" stroke-width="1.1" />
<line x1="114.40" y1="347.50" x2="122.40" y2="347.50" stroke="#1c1c1c" stroke-width="1.1" />
<circle cx="142.00" cy="334.30" r="1.8" fill="#4a6f9f" stroke="#18212e" stroke-width="0.85"/>
<circle cx="139.70" cy="341.20" r="1.8" fill="#4a6f9f" stroke="#18212e" stroke-width="0.85"/>
<circle cx="144.00" cy="345.00" r="1.8" fill="#4a6f9f" stroke="#18212e" stroke-width="0.85"/>
<circle cx="140.60" cy="346.40" r="1.8" fill="#4a6f9f" stroke="#18212e" stroke-width="0.85"/>
<circle cx="144.00" cy="349.00" r="1.8" fill="#4a6f9f" stroke="#18212e" stroke-width="0.85"/>
<circle cx="142.00" cy="351.80" r="1.8" fill="#4a6f9f" stroke="#18212e" stroke-width="0.85"/>
<line x1="141.50" y1="340.50" x2="141.50" y2="347.50" stroke="#1c1c1c" stroke-width="1.1" />
<line x1="139.50" y1="340.50" x2="143.50" y2="340.50" stroke="#1c1c1c" stroke-width="1.1" />
<line x1="139.50" y1="347.50" x2="143.50" y2="347.50" stroke="#1c1c1c" stroke-width="1.1" />
<line x1="137.50" y1="344.50" x2="145.50" y2="344.50" stroke="#1c1c1c" stroke-width="1.1" />
<rect x="157.47" y="317.77" width="3.25" height="3.25" fill="#c2304a" stroke="#3a0d16" stroke-width="0.8"/>
<rect x="152.68" y="322.77" width="3.25" height="3.25" fill="#c2304a" stroke="#3a0d16" stroke-width="0.8"/>
<rect x="152.38" y="330.18" width="3.25" height="3.25" fill="#c2304a" stroke="#3a0d16" stroke-width="0.8"/>
<rect x="157.47" y="331.48" width="3.25" height="3.25" fill="#c2304a" stroke="#3a0d16" stroke-width="0.8"/>
<rect x="152.68" y="342.68" width="3.25" height="3.25" fill="#c2304a" stroke="#3a0d16" stroke-width="0.8"/>
<rect x="157.47" y="342.68" width="3.25" height="3.25" fill="#c2304a" stroke="#3a0d16" stroke-width="0.8"/>
<line x1="156.00" y1="328.30" x2="156.00" y2="336.90" stroke="#1c1c1c" stroke-width="1.1" />
<line x1="154.00" y1="328.30" x2="158.00" y2="328.30" stroke="#1c1c1c" stroke-width="1.1" />
<line x1="154.00" y1="336.90" x2="158.00" y2="336.90" stroke="#1c1c1c" stroke-width="1.1" />
<line x1="152.00" y1="332.50" x2="160.00" y2="332.50" stroke="#1c1c1c" stroke-width="1.1" />
<circle cx="177.70" cy="299.50" r="1.8" fill="#4a6f9f" stroke="#18212e" stroke-width="0.85"/>
<circle cx="182.30" cy="298.90" r="1.8" fill="#4a6f9f" stroke="#18212e" stroke-width="0.85"/>
<circle cx="179.50" cy="307.20" r="1.8" fill="#4a6f9f" stroke="#18212e" stroke-width="0.85"/>
<circle cx="178.00" cy="310.80" r="1.8" fill="#4a6f9f" stroke="#18212e" stroke-width="0.85"/>
<circle cx="179.50" cy="314.60" r="1.8" fill="#4a6f9f" stroke="#18212e" stroke-width="0.85"/>
<circle cx="181.50" cy="314.60" r="1.8" fill="#4a6f9f" stroke="#18212e" stroke-width="0.85"/>
<line x1="180.00" y1="303.50" x2="180.00" y2="310.00" stroke="#1c1c1c" stroke-width="1.1" />
<line x1="178.00" y1="303.50" x2="182.00" y2="303.50" stroke="#1c1c1c" stroke-width="1.1" />
<line x1="178.00" y1="310.00" x2="182.00" y2="310.00" stroke="#1c1c1c" stroke-width="1.1" />
<line x1="176.00" y1="307.00" x2="184.00" y2="307.00" stroke="#1c1c1c" stroke-width="1.1" />
<rect x="189.88" y="284.07" width="3.25" height="3.25" fill="#c2304a" stroke="#3a0d16" stroke-width="0.8"/>
<rect x="194.88" y="283.48" width="3.25" height="3.25" fill="#c2304a" stroke="#3a0d16" stroke-width="0.8"/>
<rect x="189.88" y="292.68" width="3.25" height="3.25" fill="#c2304a" stroke="#3a0d16" stroke-width="0.8"/>
<rect x="194.57" y="298.38" width="3.25" height="3.25" fill="#c2304a" stroke="#3a0d16" stroke-width="0.8"/>
<rect x="197.28" y="297.88" width="3.25" height="3.25" fill="#c2304a" stroke="#3a0d16" stroke-width="0.8"/>
<rect x="189.88" y="304.07" width="3.25" height="3.25" fill="#c2304a" stroke="#3a0d16" stroke-width="0.8"/>
<line x1="194.50" y1="291.50" x2="194.50" y2="299.00" stroke="#1c1c1c" stroke-width="1.1" />
<line x1="192.50" y1="291.50" x2="196.50" y2="291.50" stroke="#1c1c1c" stroke-width="1.1" />
<line x1="192.50" y1="299.00" x2="196.50" y2="299.00" stroke="#1c1c1c" stroke-width="1.1" />
<line x1="190.50" y1="295.50" x2="198.50" y2="295.50" stroke="#1c1c1c" stroke-width="1.1" />
<text transform="translate(276.26 246.60) scale(0.799 1)" font-size="12.8" fill="#111" stroke="#111" stroke-width="0.3">F</text>
<g stroke-linejoin="round">
<path d="M300.5 365 L304 363.5 L307 361 L310 358.5 L313 355 L316 347 L319 331 L322 318.5 L325.3 304.4 L327.3 296.3 L328.5 290 L329.5 286 L330.5 284.5 L331.5 283 L332.6 280.5 L333.5 279.4 L334.4 281.8 L335.4 282 L336.5 278.6 L337.4 280.8 L338.2 280.6 L339.1 278.6 L340.2 281.5 L341 284 L341.5 288 L342.5 300 L344 320 L345.5 340 L347 355 L349 365 Z" fill="#d6dfc2" stroke="#8fb86e" stroke-width="0.9"/>
<path d="M321.3 365 L324.5 361.5 L327.3 357 L331.3 347 L334.4 328.6 L337.4 306.4 L340.4 288.3 L341.8 281 L343.1 275.7 L344.4 279.5 L345.6 286 L347.5 300 L349.5 318 L352 338 L355 352 L359.5 364.5 L361 365 Z" fill="#8a92ab" fill-opacity="0.8" stroke="#6f7fa8" stroke-width="0.9"/>
<path d="M327.3 365 L331 361.5 L335.4 357 L338.5 351 L340.4 342.8 L343.5 322.6 L345.5 302.4 L347.1 286.2 L348.6 280.5 L349.8 277.8 L350.6 276.8 L351.6 279.5 L352.6 284.2 L354.6 300.4 L356.6 318.5 L358.6 338.7 L360.2 348 L361.6 354.9 L363.5 360 L365.7 364.2 L368 365 Z" fill="#d48a76" fill-opacity="0.62" stroke="#b84a55" stroke-width="0.95"/>
<path d="M365 364.6 L396 364.6 M394.5 364.6 L396 356" stroke="#b9485a" stroke-width="0.8" fill="none"/>
</g>
<rect x="300.20" y="266.90" width="96.60" height="98.00" fill="none" stroke="#222" stroke-width="1.3" />
<text x="331.40" y="274.30" font-size="7.2" fill="#333" stroke="#333" stroke-width="0.15" textLength="20.00" lengthAdjust="spacingAndGlyphs" >Young</text>
<text x="303.90" y="289.60" font-size="7.2" fill="#333" stroke="#333" stroke-width="0.15" textLength="22.00" lengthAdjust="spacingAndGlyphs" >Resting</text>
<text x="358.30" y="313.90" font-size="7.2" fill="#333" stroke="#333" stroke-width="0.15" textLength="10.80" lengthAdjust="spacingAndGlyphs" >Old</text>
<text x="293.70" y="317.00" font-size="10.6" fill="#111" stroke="#111" stroke-width="0.35" text-anchor="middle" textLength="27.50" lengthAdjust="spacingAndGlyphs" transform="rotate(-90 293.70 317.00)" >Count</text>
<text x="310.80" y="378.60" font-size="10.6" fill="#111" stroke="#111" stroke-width="0.35" textLength="75.60" lengthAdjust="spacingAndGlyphs" >Lactadherin-FITC</text>
<line x1="443.50" y1="260.50" x2="443.50" y2="364.60" stroke="#1c1c1c" stroke-width="1.3" />
<line x1="440.50" y1="364.00" x2="443.50" y2="364.00" stroke="#1c1c1c" stroke-width="1.3" />
<text x="437.60" y="366.60" font-size="8.5" fill="#222" stroke="#222" stroke-width="0.35" text-anchor="end" >0</text>
<line x1="440.50" y1="343.82" x2="443.50" y2="343.82" stroke="#1c1c1c" stroke-width="1.3" />
<text x="437.60" y="346.42" font-size="8.5" fill="#222" stroke="#222" stroke-width="0.35" text-anchor="end" textLength="8.80" lengthAdjust="spacingAndGlyphs" >10</text>
<line x1="440.50" y1="323.64" x2="443.50" y2="323.64" stroke="#1c1c1c" stroke-width="1.3" />
<text x="437.60" y="326.24" font-size="8.5" fill="#222" stroke="#222" stroke-width="0.35" text-anchor="end" textLength="8.80" lengthAdjust="spacingAndGlyphs" >20</text>
<line x1="440.50" y1="303.46" x2="443.50" y2="303.46" stroke="#1c1c1c" stroke-width="1.3" />
<text x="437.60" y="306.06" font-size="8.5" fill="#222" stroke="#222" stroke-width="0.35" text-anchor="end" textLength="8.80" lengthAdjust="spacingAndGlyphs" >30</text>
<line x1="440.50" y1="283.28" x2="443.50" y2="283.28" stroke="#1c1c1c" stroke-width="1.3" />
<text x="437.60" y="285.88" font-size="8.5" fill="#222" stroke="#222" stroke-width="0.35" text-anchor="end" textLength="8.80" lengthAdjust="spacingAndGlyphs" >40</text>
<line x1="440.50" y1="263.10" x2="443.50" y2="263.10" stroke="#1c1c1c" stroke-width="1.3" />
<text x="437.60" y="265.70" font-size="8.5" fill="#222" stroke="#222" stroke-width="0.35" text-anchor="end" textLength="8.80" lengthAdjust="spacingAndGlyphs" >50</text>
<line x1="440.50" y1="364.20" x2="510.50" y2="364.20" stroke="#1c1c1c" stroke-width="1.3" />
<line x1="462.60" y1="364.20" x2="462.60" y2="367.70" stroke="#1c1c1c" stroke-width="1.3" />
<text x="462.60" y="378.40" font-size="8.5" fill="#222" stroke="#222" stroke-width="0.35" text-anchor="middle" >Young</text>
<line x1="491.60" y1="364.20" x2="491.60" y2="367.70" stroke="#1c1c1c" stroke-width="1.3" />
<text x="491.60" y="378.40" font-size="8.5" fill="#222" stroke="#222" stroke-width="0.35" text-anchor="middle" >Old</text>
<text x="420.90" y="312.30" font-size="10.6" fill="#111" stroke="#111" stroke-width="0.35" text-anchor="middle" textLength="87.00" lengthAdjust="spacingAndGlyphs" transform="rotate(-90 420.90 312.30)" >% max PS exposure</text>
<path d="M452.90 364.00 L452.90 331.60 L472.60 331.60 L472.60 364.00" fill="none" stroke="#6f8db5" stroke-width="0.95" stroke-linejoin="round"/>
<path d="M481.70 364.00 L481.70 294.40 L501.60 294.40 L501.60 364.00" fill="none" stroke="#c56a7c" stroke-width="1.3" stroke-linejoin="round"/>
<line x1="460.30" y1="277.00" x2="487.00" y2="277.00" stroke="#333" stroke-width="1.15" />
<circle cx="471.85" cy="272.60" r="1.15" fill="#3a3a3a"/>
<circle cx="475.45" cy="272.60" r="1.15" fill="#3a3a3a"/>
<line x1="462.60" y1="327.40" x2="462.60" y2="335.70" stroke="#1c1c1c" stroke-width="1.1" />
<line x1="458.10" y1="327.40" x2="467.10" y2="327.40" stroke="#1c1c1c" stroke-width="1.1" />
<line x1="458.10" y1="335.70" x2="467.10" y2="335.70" stroke="#1c1c1c" stroke-width="1.1" />
<line x1="455.60" y1="332.70" x2="469.60" y2="332.70" stroke="#1c1c1c" stroke-width="1.1" />
<line x1="491.60" y1="289.30" x2="491.60" y2="297.90" stroke="#1c1c1c" stroke-width="1.1" />
<line x1="487.10" y1="289.30" x2="496.10" y2="289.30" stroke="#1c1c1c" stroke-width="1.1" />
<line x1="487.10" y1="297.90" x2="496.10" y2="297.90" stroke="#1c1c1c" stroke-width="1.1" />
<circle cx="462.60" cy="313.00" r="2.05" fill="#4a6f9f" stroke="#18212e" stroke-width="0.85"/>
<circle cx="455.20" cy="329.70" r="2.05" fill="#4a6f9f" stroke="#18212e" stroke-width="0.85"/>
<circle cx="470.00" cy="332.70" r="2.05" fill="#4a6f9f" stroke="#18212e" stroke-width="0.85"/>
<circle cx="462.60" cy="335.70" r="2.05" fill="#4a6f9f" stroke="#18212e" stroke-width="0.85"/>
<circle cx="455.20" cy="339.00" r="2.05" fill="#4a6f9f" stroke="#18212e" stroke-width="0.85"/>
<circle cx="470.00" cy="337.40" r="2.05" fill="#4a6f9f" stroke="#18212e" stroke-width="0.85"/>
<rect x="482.23" y="285.73" width="3.55" height="3.55" fill="#c2304a" stroke="#3a0d16" stroke-width="0.8"/>
<rect x="487.33" y="284.73" width="3.55" height="3.55" fill="#c2304a" stroke="#3a0d16" stroke-width="0.8"/>
<rect x="492.62" y="284.73" width="3.55" height="3.55" fill="#c2304a" stroke="#3a0d16" stroke-width="0.8"/>
<rect x="497.93" y="284.73" width="3.55" height="3.55" fill="#c2304a" stroke="#3a0d16" stroke-width="0.8"/>
<rect x="485.93" y="306.62" width="3.55" height="3.55" fill="#c2304a" stroke="#3a0d16" stroke-width="0.8"/>
<rect x="493.83" y="306.62" width="3.55" height="3.55" fill="#c2304a" stroke="#3a0d16" stroke-width="0.8"/>
<text transform="translate(8.47 423.90) scale(0.826 1)" font-size="12.8" fill="#111" stroke="#111" stroke-width="0.3">G</text>
<text x="112.70" y="434.80" font-size="10" fill="#111" stroke="#111" stroke-width="0.35" textLength="36.30" lengthAdjust="spacingAndGlyphs" >Clot size</text>
<line x1="57.20" y1="458.00" x2="57.20" y2="558.10" stroke="#1c1c1c" stroke-width="1.3" />
<line x1="54.20" y1="557.50" x2="57.20" y2="557.50" stroke="#1c1c1c" stroke-width="1.3" />
<text x="50.50" y="560.10" font-size="8.5" fill="#222" stroke="#222" stroke-width="0.35" text-anchor="end" textLength="15.30" lengthAdjust="spacingAndGlyphs" >0.00</text>
<line x1="54.20" y1="538.18" x2="57.20" y2="538.18" stroke="#1c1c1c" stroke-width="1.3" />
<text x="50.50" y="540.78" font-size="8.5" fill="#222" stroke="#222" stroke-width="0.35" text-anchor="end" textLength="15.30" lengthAdjust="spacingAndGlyphs" >0.05</text>
<line x1="54.20" y1="518.86" x2="57.20" y2="518.86" stroke="#1c1c1c" stroke-width="1.3" />
<text x="50.50" y="521.46" font-size="8.5" fill="#222" stroke="#222" stroke-width="0.35" text-anchor="end" textLength="15.30" lengthAdjust="spacingAndGlyphs" >0.10</text>
<line x1="54.20" y1="499.54" x2="57.20" y2="499.54" stroke="#1c1c1c" stroke-width="1.3" />
<text x="50.50" y="502.14" font-size="8.5" fill="#222" stroke="#222" stroke-width="0.35" text-anchor="end" textLength="15.30" lengthAdjust="spacingAndGlyphs" >0.15</text>
<line x1="54.20" y1="480.22" x2="57.20" y2="480.22" stroke="#1c1c1c" stroke-width="1.3" />
<text x="50.50" y="482.82" font-size="8.5" fill="#222" stroke="#222" stroke-width="0.35" text-anchor="end" textLength="15.30" lengthAdjust="spacingAndGlyphs" >0.20</text>
<line x1="54.20" y1="460.90" x2="57.20" y2="460.90" stroke="#1c1c1c" stroke-width="1.3" />
<text x="50.50" y="463.50" font-size="8.5" fill="#222" stroke="#222" stroke-width="0.35" text-anchor="end" textLength="15.30" lengthAdjust="spacingAndGlyphs" >0.25</text>
<line x1="57.00" y1="557.50" x2="121.50" y2="557.50" stroke="#1c1c1c" stroke-width="1.3" />
<line x1="75.00" y1="557.50" x2="75.00" y2="561.00" stroke="#1c1c1c" stroke-width="1.3" />
<text x="75.00" y="571.70" font-size="8.5" fill="#222" stroke="#222" stroke-width="0.35" text-anchor="middle" >Young</text>
<line x1="102.50" y1="557.50" x2="102.50" y2="561.00" stroke="#1c1c1c" stroke-width="1.3" />
<text x="102.50" y="571.70" font-size="8.5" fill="#222" stroke="#222" stroke-width="0.35" text-anchor="middle" >Old</text>
<text x="27.50" y="507.80" font-size="10.6" fill="#111" stroke="#111" stroke-width="0.35" text-anchor="middle" textLength="103.00" lengthAdjust="spacingAndGlyphs" transform="rotate(-90 27.50 507.80)" >Growth rate (% area / s)</text>
<line x1="69.50" y1="457.80" x2="100.50" y2="457.80" stroke="#333" stroke-width="1.15" />
<circle cx="83.20" cy="453.40" r="1.15" fill="#3a3a3a"/>
<circle cx="86.80" cy="453.40" r="1.15" fill="#3a3a3a"/>
<line x1="102.50" y1="480.00" x2="102.50" y2="501.75" stroke="#1c1c1c" stroke-width="1.1" />
<line x1="96.25" y1="480.00" x2="108.75" y2="480.00" stroke="#1c1c1c" stroke-width="1.1" />
<line x1="96.25" y1="501.75" x2="108.75" y2="501.75" stroke="#1c1c1c" stroke-width="1.1" />
<line x1="93.75" y1="490.75" x2="111.25" y2="490.75" stroke="#1c1c1c" stroke-width="1.1" />
<circle cx="100.00" cy="467.00" r="2.05" fill="#c2304a" stroke="#3a0d16" stroke-width="0.85"/>
<circle cx="105.75" cy="468.75" r="2.05" fill="#c2304a" stroke="#3a0d16" stroke-width="0.85"/>
<circle cx="102.50" cy="486.75" r="2.05" fill="#c2304a" stroke="#3a0d16" stroke-width="0.85"/>
<circle cx="102.50" cy="512.00" r="2.05" fill="#c2304a" stroke="#3a0d16" stroke-width="0.85"/>
<circle cx="102.50" cy="519.50" r="2.05" fill="#c2304a" stroke="#3a0d16" stroke-width="0.85"/>
<rect x="67.72" y="536.23" width="3.55" height="3.55" fill="#4a6f9f" stroke="#18212e" stroke-width="0.8"/>
<rect x="73.22" y="536.98" width="3.55" height="3.55" fill="#4a6f9f" stroke="#18212e" stroke-width="0.8"/>
<rect x="79.47" y="533.23" width="3.55" height="3.55" fill="#4a6f9f" stroke="#18212e" stroke-width="0.8"/>
<rect x="76.97" y="546.98" width="3.55" height="3.55" fill="#4a6f9f" stroke="#18212e" stroke-width="0.8"/>
<rect x="70.72" y="548.73" width="3.55" height="3.55" fill="#4a6f9f" stroke="#18212e" stroke-width="0.8"/>
<line x1="75.00" y1="535.50" x2="75.00" y2="545.50" stroke="#1c1c1c" stroke-width="1.1" />
<line x1="70.00" y1="535.50" x2="80.00" y2="535.50" stroke="#1c1c1c" stroke-width="1.1" />
<line x1="70.00" y1="545.50" x2="80.00" y2="545.50" stroke="#1c1c1c" stroke-width="1.1" />
<line x1="65.62" y1="541.75" x2="84.38" y2="541.75" stroke="#1c1c1c" stroke-width="1.1" />
<rect x="129.00" y="443.20" width="115.20" height="61.80" fill="none" stroke="#222" stroke-width="1.3" />
<rect x="129.40" y="510.20" width="114.80" height="62.30" fill="none" stroke="#222" stroke-width="1.3" />
<text x="133.00" y="452.30" font-size="7.2" fill="#333" stroke="#333" stroke-width="0.15" textLength="19.50" lengthAdjust="spacingAndGlyphs" >Young</text>
<text x="132.50" y="518.80" font-size="7.2" fill="#333" stroke="#333" stroke-width="0.15" textLength="11.00" lengthAdjust="spacingAndGlyphs" >Old</text>
<circle cx="134.70" cy="485.62" r="0.75" fill="#a02b25"/>
<circle cx="135.28" cy="485.65" r="0.92" fill="#a02b25"/>
<circle cx="135.39" cy="487.46" r="0.89" fill="#a02b25"/>
<circle cx="135.74" cy="488.54" r="0.97" fill="#a02b25"/>
<circle cx="136.66" cy="489.67" r="1.11" fill="#a02b25"/>
<circle cx="136.78" cy="491.08" r="0.77" fill="#a02b25"/>
<circle cx="137.81" cy="492.02" r="0.95" fill="#a02b25"/>
<circle cx="137.44" cy="493.43" r="0.75" fill="#a02b25"/>
<circle cx="138.42" cy="495.03" r="0.85" fill="#a02b25"/>
<circle cx="138.36" cy="495.73" r="1.04" fill="#a02b25"/>
<circle cx="138.33" cy="497.01" r="0.93" fill="#a02b25"/>
<circle cx="145.37" cy="482.66" r="1.25" fill="#a02b25"/>
<circle cx="146.22" cy="484.06" r="1.03" fill="#a02b25"/>
<circle cx="147.03" cy="486.36" r="1.20" fill="#a02b25"/>
<circle cx="147.32" cy="487.20" r="1.07" fill="#a02b25"/>
<circle cx="147.95" cy="488.58" r="1.02" fill="#a02b25"/>
<circle cx="147.09" cy="489.00" r="1.10" fill="#a02b25"/>
<circle cx="148.72" cy="489.13" r="0.98" fill="#a02b25"/>
<circle cx="147.83" cy="490.23" r="0.89" fill="#a02b25"/>
<circle cx="150.04" cy="485.22" r="0.99" fill="#a02b25"/>
<circle cx="150.41" cy="486.38" r="1.06" fill="#a02b25"/>
<circle cx="152.05" cy="487.89" r="0.94" fill="#a02b25"/>
<circle cx="151.75" cy="488.76" r="1.24" fill="#a02b25"/>
<circle cx="151.90" cy="488.53" r="0.92" fill="#a02b25"/>
<circle cx="153.01" cy="489.42" r="0.81" fill="#a02b25"/>
<circle cx="153.10" cy="490.74" r="1.24" fill="#a02b25"/>
<circle cx="153.78" cy="491.66" r="1.11" fill="#a02b25"/>
<circle cx="155.80" cy="482.44" r="1.04" fill="#a02b25"/>
<circle cx="155.48" cy="482.25" r="0.97" fill="#a02b25"/>
<circle cx="155.83" cy="485.35" r="0.74" fill="#a02b25"/>
<circle cx="156.21" cy="487.22" r="0.73" fill="#a02b25"/>
<circle cx="157.17" cy="487.83" r="0.82" fill="#a02b25"/>
<circle cx="157.04" cy="488.72" r="1.06" fill="#a02b25"/>
<circle cx="157.42" cy="490.16" r="0.75" fill="#a02b25"/>
<circle cx="160.22" cy="481.33" r="0.88" fill="#a02b25"/>
<circle cx="161.55" cy="481.87" r="1.05" fill="#a02b25"/>
<circle cx="163.18" cy="484.67" r="1.12" fill="#a02b25"/>
<circle cx="162.63" cy="484.37" r="1.16" fill="#a02b25"/>
<circle cx="163.75" cy="485.45" r="0.91" fill="#a02b25"/>
<circle cx="164.54" cy="487.12" r="1.17" fill="#a02b25"/>
<circle cx="164.59" cy="486.93" r="1.04" fill="#a02b25"/>
<circle cx="163.89" cy="487.43" r="0.94" fill="#a02b25"/>
<circle cx="165.41" cy="489.75" r="1.01" fill="#a02b25"/>
<circle cx="166.34" cy="490.57" r="0.97" fill="#a02b25"/>
<circle cx="165.56" cy="490.17" r="0.90" fill="#a02b25"/>
<circle cx="167.10" cy="492.03" r="1.03" fill="#a02b25"/>
<circle cx="167.39" cy="491.63" r="1.11" fill="#a02b25"/>
<circle cx="174.10" cy="475.87" r="0.68" fill="#a02b25"/>
<circle cx="174.88" cy="476.09" r="0.78" fill="#a02b25"/>
<circle cx="175.22" cy="476.83" r="0.82" fill="#a02b25"/>
<circle cx="175.74" cy="477.20" r="0.59" fill="#a02b25"/>
<circle cx="177.20" cy="477.88" r="0.79" fill="#a02b25"/>
<circle cx="177.80" cy="478.77" r="0.70" fill="#a02b25"/>
<circle cx="177.88" cy="480.11" r="0.73" fill="#a02b25"/>
<circle cx="180.30" cy="469.69" r="1.20" fill="#a02b25"/>
<circle cx="179.87" cy="470.03" r="0.94" fill="#a02b25"/>
<circle cx="181.21" cy="470.66" r="1.00" fill="#a02b25"/>
<circle cx="182.47" cy="471.44" r="1.02" fill="#a02b25"/>
<circle cx="183.20" cy="472.18" r="1.22" fill="#a02b25"/>
<circle cx="183.33" cy="472.97" r="0.82" fill="#a02b25"/>
<circle cx="183.50" cy="472.76" r="1.17" fill="#a02b25"/>
<circle cx="184.71" cy="474.56" r="1.06" fill="#a02b25"/>
<circle cx="185.52" cy="474.91" r="1.16" fill="#a02b25"/>
<circle cx="186.56" cy="475.71" r="1.16" fill="#a02b25"/>
<circle cx="187.80" cy="477.12" r="1.22" fill="#a02b25"/>
<circle cx="180.98" cy="478.51" r="1.04" fill="#a02b25"/>
<circle cx="181.44" cy="479.12" r="1.03" fill="#a02b25"/>
<circle cx="182.55" cy="480.23" r="1.23" fill="#a02b25"/>
<circle cx="183.03" cy="480.91" r="1.19" fill="#a02b25"/>
<circle cx="183.04" cy="480.66" r="0.84" fill="#a02b25"/>
<circle cx="183.67" cy="481.59" r="1.16" fill="#a02b25"/>
<circle cx="184.52" cy="482.23" r="1.11" fill="#a02b25"/>
<circle cx="186.41" cy="483.19" r="0.91" fill="#a02b25"/>
<circle cx="186.34" cy="482.98" r="1.26" fill="#a02b25"/>
<circle cx="200.91" cy="466.14" r="1.51" fill="#a02b25"/>
<circle cx="201.74" cy="466.37" r="1.64" fill="#a02b25"/>
<circle cx="203.82" cy="466.65" r="1.39" fill="#a02b25"/>
<circle cx="204.74" cy="467.25" r="1.81" fill="#a02b25"/>
<circle cx="206.57" cy="467.84" r="1.34" fill="#a02b25"/>
<circle cx="206.44" cy="468.88" r="1.44" fill="#a02b25"/>
<circle cx="208.48" cy="469.67" r="1.27" fill="#a02b25"/>
<circle cx="208.65" cy="471.20" r="1.23" fill="#a02b25"/>
<circle cx="209.82" cy="470.71" r="1.78" fill="#a02b25"/>
<circle cx="211.45" cy="471.23" r="1.73" fill="#a02b25"/>
<circle cx="206.24" cy="458.08" r="0.88" fill="#a02b25"/>
<circle cx="206.82" cy="458.24" r="0.87" fill="#a02b25"/>
<circle cx="207.44" cy="458.73" r="0.69" fill="#a02b25"/>
<circle cx="208.55" cy="459.37" r="0.96" fill="#a02b25"/>
<circle cx="209.63" cy="459.64" r="0.81" fill="#a02b25"/>
<circle cx="210.65" cy="461.28" r="0.88" fill="#a02b25"/>
<circle cx="212.10" cy="462.00" r="0.71" fill="#a02b25"/>
<circle cx="212.88" cy="461.85" r="0.99" fill="#a02b25"/>
<circle cx="213.81" cy="462.55" r="1.04" fill="#a02b25"/>
<circle cx="209.59" cy="462.54" r="0.79" fill="#a02b25"/>
<circle cx="209.84" cy="462.48" r="0.63" fill="#a02b25"/>
<circle cx="211.37" cy="464.01" r="0.61" fill="#a02b25"/>
<circle cx="212.91" cy="465.30" r="0.68" fill="#a02b25"/>
<circle cx="213.06" cy="465.75" r="0.64" fill="#a02b25"/>
<circle cx="212.79" cy="457.00" r="1.66" fill="#a02b25"/>
<circle cx="213.64" cy="457.37" r="1.27" fill="#a02b25"/>
<circle cx="214.00" cy="456.47" r="1.36" fill="#a02b25"/>
<circle cx="215.33" cy="457.10" r="1.08" fill="#a02b25"/>
<circle cx="215.98" cy="457.24" r="1.11" fill="#a02b25"/>
<circle cx="218.07" cy="458.37" r="1.40" fill="#a02b25"/>
<circle cx="219.88" cy="459.01" r="1.61" fill="#a02b25"/>
<circle cx="220.05" cy="459.96" r="1.17" fill="#a02b25"/>
<circle cx="221.63" cy="458.29" r="1.58" fill="#a02b25"/>
<circle cx="222.48" cy="460.14" r="1.57" fill="#a02b25"/>
<circle cx="223.15" cy="460.01" r="1.58" fill="#a02b25"/>
<circle cx="220.31" cy="457.28" r="1.62" fill="#a02b25"/>
<circle cx="220.75" cy="457.10" r="1.10" fill="#a02b25"/>
<circle cx="220.77" cy="457.41" r="1.58" fill="#a02b25"/>
<circle cx="222.09" cy="459.12" r="1.49" fill="#a02b25"/>
<circle cx="221.47" cy="460.07" r="1.53" fill="#a02b25"/>
<circle cx="223.36" cy="460.35" r="1.12" fill="#a02b25"/>
<circle cx="223.48" cy="459.67" r="1.24" fill="#a02b25"/>
<circle cx="224.12" cy="461.69" r="1.67" fill="#a02b25"/>
<circle cx="225.24" cy="461.71" r="1.49" fill="#a02b25"/>
<circle cx="226.48" cy="462.64" r="1.13" fill="#a02b25"/>
<circle cx="226.43" cy="463.44" r="1.26" fill="#a02b25"/>
<circle cx="226.65" cy="462.55" r="1.24" fill="#a02b25"/>
<circle cx="223.45" cy="454.02" r="1.05" fill="#a02b25"/>
<circle cx="223.87" cy="454.15" r="0.96" fill="#a02b25"/>
<circle cx="224.23" cy="455.58" r="1.37" fill="#a02b25"/>
<circle cx="227.01" cy="456.59" r="1.12" fill="#a02b25"/>
<circle cx="226.74" cy="457.06" r="1.01" fill="#a02b25"/>
<circle cx="227.46" cy="456.81" r="1.38" fill="#a02b25"/>
<circle cx="229.51" cy="457.29" r="1.34" fill="#a02b25"/>
<circle cx="229.28" cy="458.50" r="1.14" fill="#a02b25"/>
<circle cx="221.53" cy="465.74" r="1.16" fill="#a02b25"/>
<circle cx="222.08" cy="467.26" r="1.08" fill="#a02b25"/>
<circle cx="224.04" cy="466.07" r="1.64" fill="#a02b25"/>
<circle cx="225.01" cy="466.80" r="1.30" fill="#a02b25"/>
<circle cx="226.06" cy="467.81" r="1.30" fill="#a02b25"/>
<circle cx="225.33" cy="467.01" r="1.14" fill="#a02b25"/>
<circle cx="226.19" cy="469.29" r="1.23" fill="#a02b25"/>
<circle cx="227.51" cy="468.04" r="1.30" fill="#a02b25"/>
<circle cx="229.16" cy="469.75" r="1.46" fill="#a02b25"/>
<circle cx="230.12" cy="469.54" r="1.51" fill="#a02b25"/>
<circle cx="228.72" cy="456.91" r="1.10" fill="#a02b25"/>
<circle cx="228.73" cy="457.93" r="0.87" fill="#a02b25"/>
<circle cx="229.86" cy="457.66" r="1.14" fill="#a02b25"/>
<circle cx="230.38" cy="458.98" r="0.95" fill="#a02b25"/>
<circle cx="231.26" cy="458.93" r="0.88" fill="#a02b25"/>
<circle cx="232.74" cy="460.21" r="0.91" fill="#a02b25"/>
<circle cx="233.55" cy="460.88" r="0.87" fill="#a02b25"/>
<circle cx="232.74" cy="461.44" r="0.85" fill="#a02b25"/>
<circle cx="235.35" cy="459.50" r="1.07" fill="#a02b25"/>
<circle cx="236.72" cy="459.88" r="0.93" fill="#a02b25"/>
<circle cx="237.77" cy="459.97" r="0.83" fill="#a02b25"/>
<circle cx="188.49" cy="466.90" r="0.91" fill="#a02b25"/>
<circle cx="189.19" cy="467.32" r="0.77" fill="#a02b25"/>
<circle cx="190.08" cy="468.96" r="0.99" fill="#a02b25"/>
<circle cx="190.08" cy="468.44" r="0.94" fill="#a02b25"/>
<circle cx="191.26" cy="469.92" r="0.68" fill="#a02b25"/>
<circle cx="185.61" cy="473.17" r="1.06" fill="#a02b25"/>
<circle cx="185.12" cy="472.90" r="0.78" fill="#a02b25"/>
<circle cx="186.23" cy="474.87" r="1.01" fill="#a02b25"/>
<circle cx="186.83" cy="474.94" r="0.94" fill="#a02b25"/>
<circle cx="187.03" cy="477.14" r="0.98" fill="#a02b25"/>
<circle cx="187.36" cy="476.94" r="0.97" fill="#a02b25"/>
<circle cx="230.55" cy="463.00" r="0.76" fill="#a02b25"/>
<circle cx="231.47" cy="464.05" r="0.78" fill="#a02b25"/>
<circle cx="232.75" cy="466.66" r="0.79" fill="#a02b25"/>
<circle cx="233.37" cy="466.69" r="0.67" fill="#a02b25"/>
<circle cx="170.62" cy="475.19" r="0.55" fill="#a02b25"/>
<circle cx="170.84" cy="475.56" r="0.62" fill="#a02b25"/>
<circle cx="171.36" cy="475.60" r="0.55" fill="#a02b25"/>
<circle cx="163.33" cy="473.26" r="0.50" fill="#a02b25"/>
<circle cx="163.82" cy="473.30" r="0.50" fill="#a02b25"/>
<circle cx="163.63" cy="473.79" r="0.51" fill="#a02b25"/>
<path d="M153.1 542.7 L154.8 539.2 L157.1 537.5 L157.7 533.5 L160 531.1 L162.3 532.3 L163.4 536.3 L166.9 536.9 L171.5 536.3 L175 534.6 L178.4 532.9 L183.1 532.3 L184.2 527.7 L186.5 526.5 L190 527.1 L193.1 522.7 L197.7 525 L202.3 523.8 L208.1 524.4 L212.7 522.7 L212.7 519.2 L218.4 518.7 L224.2 521.5 L221.9 525.6 L222.5 530.8 L225.4 530.8 L228.8 533.1 L227.7 536 L223.1 535.4 L221.9 538.8 L218.4 538.8 L216.1 539.4 L212.7 538.8 L208.1 536 L202.3 534.8 L197.7 536 L193.1 537.7 L191.9 542.3 L189.6 544.6 L185 545.8 L185.4 550.8 L179.6 548.4 L176.1 549.6 L177.3 554.2 L173.8 558.8 L168.1 560 L162.3 557.7 L158.8 554.2 L157.7 550.8 L154.2 547.3 Z" fill="#a02b25" stroke="#a02b25" stroke-width="0.8" stroke-linejoin="round"/>
<path d="M137.5 544 L139 539 L141.5 537.7 L145 538.7 L146.5 542.7 L145 546 L141.5 547.5 L138.5 546.5 Z" fill="#a02b25" stroke="#a02b25" stroke-width="0.8"/>
<ellipse cx="148.5" cy="553.6" rx="2.8" ry="1.8" fill="#a02b25"/>
<ellipse cx="234.3" cy="530.2" rx="4.2" ry="1.4" fill="#a02b25"/>
<ellipse cx="202.3" cy="544.6" rx="1.5" ry="1.2" fill="#a02b25"/>
<ellipse cx="191.9" cy="546.9" rx="1.4" ry="1.0" fill="#a02b25"/>
<ellipse cx="185.5" cy="550.4" rx="2.2" ry="1.2" fill="#a02b25"/>
<ellipse cx="196.5" cy="544" rx="1.0" ry="0.8" fill="#a02b25"/>
<ellipse cx="166.7" cy="529.5" rx="0.8" ry="0.6" fill="#a02b25"/>
<ellipse cx="143.5" cy="550.2" rx="0.8" ry="0.8" fill="#a02b25"/>
<ellipse cx="205" cy="541.5" rx="3" ry="1.6" fill="#a02b25"/>
<ellipse cx="212" cy="545" rx="2.6" ry="1.3" fill="#a02b25"/>
<ellipse cx="198.5" cy="547.5" rx="2" ry="1.2" fill="#a02b25"/>
<ellipse cx="220" cy="540.5" rx="2.2" ry="1.1" fill="#a02b25"/>
<ellipse cx="228" cy="537.5" rx="2.5" ry="1.3" fill="#a02b25"/>
<ellipse cx="176" cy="531" rx="1.2" ry="0.9" fill="#a02b25"/>
<ellipse cx="209" cy="519.5" rx="1.5" ry="1" fill="#a02b25"/>
<ellipse cx="190" cy="525" rx="1.2" ry="0.8" fill="#a02b25"/>
<text transform="translate(276.12 423.80) scale(0.937 1)" font-size="12.8" fill="#111" stroke="#111" stroke-width="0.3">H</text>
<text x="346.90" y="435.00" font-size="10" fill="#111" stroke="#111" stroke-width="0.35" textLength="104.60" lengthAdjust="spacingAndGlyphs" >Young vs older humans</text>
<g fill="#111">
<circle cx="347.2" cy="468.5" r="5.5"/>
<path d="M337.6 481 C337.6 477.3 339.8 475.3 343.2 475.3 L351.2 475.3 C354.6 475.3 356.8 477.3 356.8 481 L356.8 483 L353.6 484.5 L353.3 500.5 L352.6 523.6 C352.5 526.1 349.8 526.1 349.7 523.6 L348.3 502.3 L346.1 502.3 L344.7 523.6 C344.6 526.1 341.9 526.1 341.8 523.6 L341.1 500.5 L340.8 484.5 L337.6 483 Z"/>
<path d="M339 480.5 L338.5 497.8 M355.4 480.5 L355.9 497.8" stroke="#111" stroke-width="2.9" stroke-linecap="round" fill="none"/>
<path d="M340.6 486 L340.5 498.5 M353.8 486 L353.9 498.5" stroke="#fff" stroke-width="0.45" fill="none"/>
</g>
<text x="296.7" y="541.8" font-size="9.4" fill="#111" stroke="#111" stroke-width="0.2" textLength="107.1" lengthAdjust="spacingAndGlyphs"><tspan fill="#46669e" stroke="#46669e">Younger</tspan> (mean age 35 years)</text>
<text x="299.2" y="553.2" font-size="9.4" fill="#111" stroke="#111" stroke-width="0.2" textLength="104.6" lengthAdjust="spacingAndGlyphs" xml:space="preserve"><tspan fill="#b03a4c" stroke="#b03a4c">Older</tspan> (mean age  79.5 years)</text>
<line x1="443.50" y1="460.20" x2="443.50" y2="557.90" stroke="#1c1c1c" stroke-width="1.3" />
<line x1="440.50" y1="547.90" x2="443.50" y2="547.90" stroke="#1c1c1c" stroke-width="1.3" />
<text x="437.50" y="550.50" font-size="8.5" fill="#222" stroke="#222" stroke-width="0.35" text-anchor="end" >0</text>
<line x1="440.50" y1="526.60" x2="443.50" y2="526.60" stroke="#1c1c1c" stroke-width="1.3" />
<text x="437.50" y="529.20" font-size="8.5" fill="#222" stroke="#222" stroke-width="0.35" text-anchor="end" textLength="8.80" lengthAdjust="spacingAndGlyphs" >20</text>
<line x1="440.50" y1="505.30" x2="443.50" y2="505.30" stroke="#1c1c1c" stroke-width="1.3" />
<text x="437.50" y="507.90" font-size="8.5" fill="#222" stroke="#222" stroke-width="0.35" text-anchor="end" textLength="8.80" lengthAdjust="spacingAndGlyphs" >40</text>
<line x1="440.50" y1="484.00" x2="443.50" y2="484.00" stroke="#1c1c1c" stroke-width="1.3" />
<text x="437.50" y="486.60" font-size="8.5" fill="#222" stroke="#222" stroke-width="0.35" text-anchor="end" textLength="8.80" lengthAdjust="spacingAndGlyphs" >60</text>
<line x1="440.50" y1="462.70" x2="443.50" y2="462.70" stroke="#1c1c1c" stroke-width="1.3" />
<text x="437.50" y="465.30" font-size="8.5" fill="#222" stroke="#222" stroke-width="0.35" text-anchor="end" textLength="8.80" lengthAdjust="spacingAndGlyphs" >80</text>
<line x1="443.30" y1="557.30" x2="512.00" y2="557.30" stroke="#1c1c1c" stroke-width="1.3" />
<line x1="463.60" y1="557.30" x2="463.60" y2="560.80" stroke="#1c1c1c" stroke-width="1.3" />
<text x="463.60" y="572.30" font-size="8.5" fill="#222" stroke="#222" stroke-width="0.35" text-anchor="middle" >Younger</text>
<line x1="496.00" y1="557.30" x2="496.00" y2="560.80" stroke="#1c1c1c" stroke-width="1.3" />
<text x="496.00" y="572.30" font-size="8.5" fill="#222" stroke="#222" stroke-width="0.35" text-anchor="middle" >Older</text>
<text x="420.90" y="508.20" font-size="10.6" fill="#111" stroke="#111" stroke-width="0.35" text-anchor="middle" textLength="108.50" lengthAdjust="spacingAndGlyphs" transform="rotate(-90 420.90 508.20)" >% max <tspan font-family="Liberation Serif" font-size="12">α</tspan>IIbβ3 activation</text>
<line x1="462.30" y1="474.70" x2="498.00" y2="474.70" stroke="#333" stroke-width="1.15" />
<circle cx="476.55" cy="470.30" r="1.15" fill="#3a3a3a"/>
<circle cx="480.15" cy="470.30" r="1.15" fill="#3a3a3a"/>
<circle cx="483.75" cy="470.30" r="1.15" fill="#3a3a3a"/>
<circle cx="463.75" cy="488.30" r="2.05" fill="#4a6f9f" stroke="#18212e" stroke-width="0.85"/>
<circle cx="463.75" cy="524.30" r="2.05" fill="#4a6f9f" stroke="#18212e" stroke-width="0.85"/>
<circle cx="463.75" cy="531.20" r="2.05" fill="#4a6f9f" stroke="#18212e" stroke-width="0.85"/>
<path d="M455.9 542.5 L471.8 542.5 C471.8 546.8 468.3 549.4 463.85 549.4 C459.4 549.4 455.9 546.8 455.9 542.5 Z" fill="#33507c" stroke="#111" stroke-width="0.9"/>
<circle cx="458.3" cy="544.2" r="1.35" fill="#5a7cab"/>
<circle cx="469.4" cy="544.2" r="1.35" fill="#5a7cab"/>
<circle cx="460.5" cy="547.2" r="1.35" fill="#5a7cab"/>
<circle cx="463.8" cy="547.8" r="1.35" fill="#5a7cab"/>
<circle cx="467.1" cy="547.2" r="1.35" fill="#5a7cab"/>
<rect x="461.2" y="543.1" width="2" height="1.8" fill="#fff"/><rect x="464.6" y="543.1" width="2" height="1.8" fill="#fff"/>
<line x1="463.85" y1="539.80" x2="463.85" y2="542.50" stroke="#1c1c1c" stroke-width="1.2" />
<line x1="459.90" y1="539.80" x2="467.80" y2="539.80" stroke="#1c1c1c" stroke-width="1.2" />
<line x1="459.90" y1="542.50" x2="467.80" y2="542.50" stroke="#1c1c1c" stroke-width="1.2" />
<line x1="455.90" y1="542.50" x2="471.80" y2="542.50" stroke="#1c1c1c" stroke-width="1.2" />
<rect x="491.53" y="483.43" width="3.55" height="3.55" fill="#c2304a" stroke="#3a0d16" stroke-width="0.8"/>
<rect x="497.43" y="484.03" width="3.55" height="3.55" fill="#c2304a" stroke="#3a0d16" stroke-width="0.8"/>
<rect x="494.62" y="491.53" width="3.55" height="3.55" fill="#c2304a" stroke="#3a0d16" stroke-width="0.8"/>
<rect x="494.62" y="512.33" width="3.55" height="3.55" fill="#c2304a" stroke="#3a0d16" stroke-width="0.8"/>
<rect x="488.83" y="519.23" width="3.55" height="3.55" fill="#c2304a" stroke="#3a0d16" stroke-width="0.8"/>
<rect x="493.62" y="520.23" width="3.55" height="3.55" fill="#c2304a" stroke="#3a0d16" stroke-width="0.8"/>
<rect x="497.03" y="519.23" width="3.55" height="3.55" fill="#c2304a" stroke="#3a0d16" stroke-width="0.8"/>
<rect x="500.23" y="518.12" width="3.55" height="3.55" fill="#c2304a" stroke="#3a0d16" stroke-width="0.8"/>
<rect x="488.83" y="523.62" width="3.55" height="3.55" fill="#c2304a" stroke="#3a0d16" stroke-width="0.8"/>
<rect x="492.53" y="525.02" width="3.55" height="3.55" fill="#c2304a" stroke="#3a0d16" stroke-width="0.8"/>
<rect x="496.62" y="523.62" width="3.55" height="3.55" fill="#c2304a" stroke="#3a0d16" stroke-width="0.8"/>
<rect x="500.23" y="521.93" width="3.55" height="3.55" fill="#c2304a" stroke="#3a0d16" stroke-width="0.8"/>
<rect x="489.53" y="528.43" width="3.55" height="3.55" fill="#c2304a" stroke="#3a0d16" stroke-width="0.8"/>
<rect x="494.33" y="529.83" width="3.55" height="3.55" fill="#c2304a" stroke="#3a0d16" stroke-width="0.8"/>
<rect x="499.12" y="529.83" width="3.55" height="3.55" fill="#c2304a" stroke="#3a0d16" stroke-width="0.8"/>
<rect x="490.83" y="531.23" width="3.55" height="3.55" fill="#c2304a" stroke="#3a0d16" stroke-width="0.8"/>
<rect x="495.73" y="533.23" width="3.55" height="3.55" fill="#c2304a" stroke="#3a0d16" stroke-width="0.8"/>
<rect x="488.83" y="536.73" width="3.55" height="3.55" fill="#c2304a" stroke="#3a0d16" stroke-width="0.8"/>
<rect x="494.33" y="537.33" width="3.55" height="3.55" fill="#c2304a" stroke="#3a0d16" stroke-width="0.8"/>
<rect x="499.43" y="536.02" width="3.55" height="3.55" fill="#c2304a" stroke="#3a0d16" stroke-width="0.8"/>
<rect x="490.23" y="540.83" width="3.55" height="3.55" fill="#c2304a" stroke="#3a0d16" stroke-width="0.8"/>
<rect x="495.73" y="541.52" width="3.55" height="3.55" fill="#c2304a" stroke="#3a0d16" stroke-width="0.8"/>
<rect x="498.43" y="540.12" width="3.55" height="3.55" fill="#c2304a" stroke="#3a0d16" stroke-width="0.8"/>
<rect x="489.53" y="545.33" width="3.55" height="3.55" fill="#c2304a" stroke="#3a0d16" stroke-width="0.8"/>
<rect x="493.62" y="545.93" width="3.55" height="3.55" fill="#c2304a" stroke="#3a0d16" stroke-width="0.8"/>
<rect x="498.83" y="544.93" width="3.55" height="3.55" fill="#c2304a" stroke="#3a0d16" stroke-width="0.8"/>
<line x1="488.50" y1="529.50" x2="504.30" y2="529.50" stroke="#1c1c1c" stroke-width="1.1" />
</svg>
</body></html>
